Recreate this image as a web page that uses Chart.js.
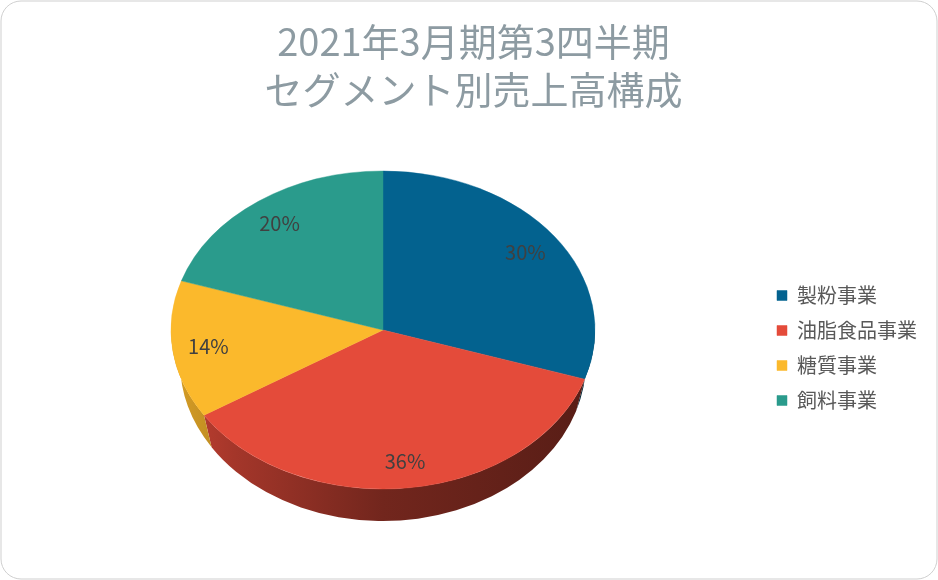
<!DOCTYPE html>
<html><head><meta charset="utf-8">
<script src="https://cdn.jsdelivr.net/npm/chart.js@4.4.0/dist/chart.umd.min.js"></script>
<style>html,body{margin:0;padding:0;background:#fff;}#wrap{width:938px;height:580px;position:relative;}</style>
</head><body><div id="wrap"><canvas id="c" width="938" height="580"></canvas></div>
<script>
const titleLines = ['2021年3月期第3四半期', 'セグメント別売上高構成'];
const categories = ['製粉事業', '油脂食品事業', '糖質事業', '飼料事業'];
const shares = [30, 36, 14, 20];
const colors = ['#03628f', '#e44b3a', '#fbb92c', '#2a9b8c'];

const FONT = "'Noto Sans CJK JP','Noto Sans',sans-serif";
const P = {cx: 383, cy: 330, rx: 212, ry: 159, depth: 32, shrink: 9, labelR: 0.83};

function shade(hex, f) {
  const n = parseInt(hex.slice(1), 16);
  const r = Math.round(((n >> 16) & 255) * f), g = Math.round(((n >> 8) & 255) * f), b = Math.round((n & 255) * f);
  return `rgb(${r},${g},${b})`;
}

const frame = {
  id: 'frame',
  beforeDraw(chart) {
    const ctx = chart.ctx;
    ctx.save();
    ctx.beginPath();
    ctx.roundRect(1, 1, chart.width - 2, chart.height - 2, 20);
    ctx.fillStyle = '#ffffff';
    ctx.fill();
    ctx.lineWidth = 1;
    ctx.strokeStyle = '#cfcfcf';
    ctx.stroke();
    ctx.restore();
  }
};

const pie3d = {
  id: 'pie3d',
  beforeDatasetsDraw(chart) {
    const ctx = chart.ctx;
    const meta = chart.getDatasetMeta(0);
    const a0 = meta.data[0];
    const R = a0.outerRadius, ox = a0.x, oy = a0.y;
    const rx2 = P.rx - P.shrink;
    ctx.save();
    meta.data.forEach((arc, i) => {
      const lo = Math.max(arc.startAngle, 0), hi = Math.min(arc.endAngle, Math.PI);
      if (hi <= lo) return;
      ctx.beginPath();
      ctx.ellipse(P.cx, P.cy, P.rx, P.ry, 0, lo, hi, false);
      ctx.lineTo(P.cx + rx2 * Math.cos(hi), P.cy + P.ry * Math.sin(hi) + P.depth);
      ctx.ellipse(P.cx, P.cy + P.depth, rx2, P.ry, 0, hi, lo, true);
      ctx.closePath();
      const g = ctx.createLinearGradient(P.cx - P.rx, 0, P.cx + P.rx, 0);
      const col = colors[i];
      g.addColorStop(0, shade(col, 0.86));
      g.addColorStop(0.15, shade(col, 0.72));
      g.addColorStop(0.5, shade(col, 0.5));
      g.addColorStop(1, shade(col, 0.38));
      ctx.fillStyle = g;
      ctx.fill();
    });
    ctx.restore();
    ctx.save();
    ctx.translate(P.cx, P.cy);
    ctx.scale(P.rx / R, P.ry / R);
    ctx.translate(-ox, -oy);
  },
  afterDatasetsDraw(chart) {
    const ctx = chart.ctx;
    ctx.restore();
    const meta = chart.getDatasetMeta(0);
    const ds = chart.data.datasets[0].data;
    const total = ds.reduce((a, b) => a + b, 0);
    ctx.save();
    ctx.font = `20px ${FONT}`;
    ctx.fillStyle = '#404040';
    ctx.textAlign = 'center';
    ctx.textBaseline = 'middle';
    meta.data.forEach((arc, i) => {
      const m = (arc.startAngle + arc.endAngle) / 2;
      const x = P.cx + P.rx * P.labelR * Math.cos(m);
      const y = P.cy + P.ry * P.labelR * Math.sin(m);
      ctx.fillText(Math.round(ds[i] / total * 100) + '%', x, y);
    });
    ctx.restore();
  }
};

new Chart(document.getElementById('c'), {
  type: 'pie',
  data: {
    labels: categories,
    datasets: [{data: shares, backgroundColor: colors, borderColor: colors, borderWidth: 0.5}]
  },
  options: {
    responsive: false,
    animation: false,
    layout: {padding: {top: 0, right: 11, bottom: 20, left: 20}},
    plugins: {
      title: {
        display: true, text: titleLines, color: '#8d9ba2',
        font: {family: FONT, size: 38, weight: 'normal', lineHeight: 1.263},
        padding: {top: 18, bottom: 10}
      },
      legend: {
        position: 'right',
        title: {display: true, text: ' ', font: {size: 16, lineHeight: 1}, padding: {top: 60, bottom: 60}},
        labels: {boxWidth: 10, boxHeight: 10, padding: 15, color: '#595959',
                 font: {family: FONT, size: 20, lineHeight: 1.0}}
      },
      tooltip: {enabled: false}
    }
  },
  plugins: [frame, pie3d]
});
</script></body></html>
